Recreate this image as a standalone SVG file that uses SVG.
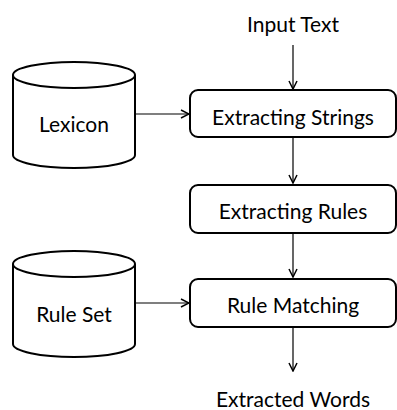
<svg xmlns="http://www.w3.org/2000/svg" width="397" height="410" viewBox="0 0 397 410">
<defs>
<marker id="arr" viewBox="0 0 10 10" refX="9" refY="5" markerWidth="10" markerHeight="10" markerUnits="userSpaceOnUse" orient="auto">
<path d="M1,1 L9,5 L1,9" fill="none" stroke="#000" stroke-width="1.5"/>
</marker>
<style>
.box{fill:#fff;stroke:#000;stroke-width:2}
.cyl{fill:#fff;stroke:#000;stroke-width:2}
.lbl{font-family:Lato,"Open Sans",sans-serif;font-size:21px;fill:#000;text-anchor:middle}
.con{stroke:#000;stroke-width:1.2;fill:none;marker-end:url(#arr)}
</style>
</defs>
<rect width="397" height="410" fill="#fff"/>
<g id="connectors">
<line class="con" x1="293" y1="45" x2="293" y2="89"/>
<line class="con" x1="136" y1="114" x2="189" y2="114"/>
<line class="con" x1="293" y1="137" x2="293" y2="183"/>
<line class="con" x1="293" y1="233" x2="293" y2="277"/>
<line class="con" x1="136" y1="303" x2="189" y2="303"/>
<line class="con" x1="293" y1="327" x2="293" y2="371"/>
</g>
<g id="input-text"><text class="lbl" x="293" y="32">Input Text</text></g>
<g id="lexicon">
<path class="cyl" d="M13,75 L13,155 A61,13 0 0 0 135,155 L135,75"/>
<ellipse class="cyl" cx="74" cy="75" rx="61" ry="13"/>
<text class="lbl" x="74" y="132">Lexicon</text>
</g>
<g id="extracting-strings">
<rect class="box" x="190" y="90" width="206" height="47" rx="8"/>
<text class="lbl" x="293" y="125">Extracting Strings</text>
</g>
<g id="extracting-rules">
<rect class="box" x="190" y="185" width="206" height="48" rx="8"/>
<text class="lbl" x="293" y="219">Extracting Rules</text>
</g>
<g id="rule-set">
<path class="cyl" d="M13,264 L13,344 A61,13 0 0 0 135,344 L135,264"/>
<ellipse class="cyl" cx="74" cy="264" rx="61" ry="13"/>
<text class="lbl" x="74" y="322">Rule Set</text>
</g>
<g id="rule-matching">
<rect class="box" x="190" y="279" width="206" height="48" rx="8"/>
<text class="lbl" x="293" y="313">Rule Matching</text>
</g>
<g id="extracted-words"><text class="lbl" x="293" y="407">Extracted Words</text></g>
</svg>
